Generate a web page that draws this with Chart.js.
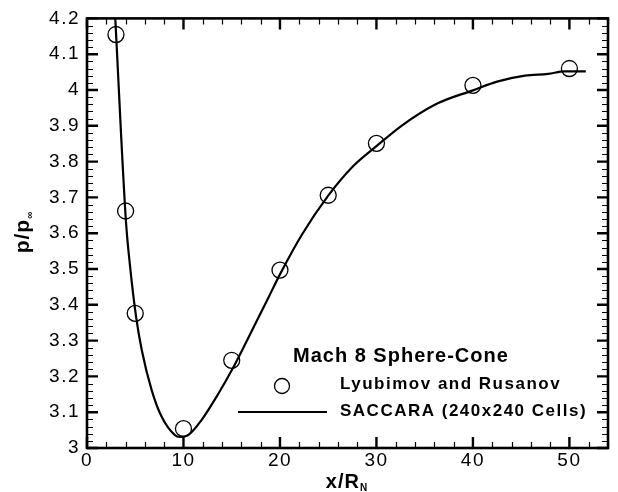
<!DOCTYPE html>
<html>
<head>
<meta charset="utf-8">
<script src="https://cdn.jsdelivr.net/npm/chart.js@4/dist/chart.umd.min.js"></script>
<style>
  body { margin: 0; background: #fff; }
  #wrap { width: 618px; height: 492px; }
</style>
</head>
<body>
<div id="wrap"><canvas id="chart" width="618" height="492"></canvas></div>
<script>
// experiment (Lyubimov and Rusanov)
var expX = [3, 4, 5, 10, 15, 20, 25, 30, 40, 50];
var expP = [4.155, 3.662, 3.376, 3.054, 3.245, 3.497, 3.706, 3.851, 4.013, 4.06];

// SACCARA (240x240 cells)
var cfdX = [2.93, 4.03, 4.47, 5.09, 5.68, 6.71, 7.74, 9.11, 9.63, 10.49, 11.87, 13.58, 15.1, 16.3, 17.5, 18.8, 20, 22.3, 25, 27.5, 30, 32.6, 36.3, 40, 42.6, 45.4, 47.8, 49.5, 51.7];
var cfdP = [4.2, 3.636, 3.506, 3.366, 3.273, 3.161, 3.087, 3.036, 3.031, 3.036, 3.078, 3.15, 3.222, 3.285, 3.35, 3.42, 3.485, 3.597, 3.705, 3.785, 3.843, 3.9, 3.962, 3.999, 4.024, 4.04, 4.045, 4.052, 4.052];

// axes
var xRange = [0, 54];
var yRange = [3, 4.2];
var xMajor = 10, xMinor = 2;
var yMajor = 0.1, yMinor = 0.02;

var legendTitle = "Mach 8 Sphere-Cone";
var legendLabels = ["Lyubimov and Rusanov", "SACCARA (240x240 Cells)"];

var FONT = "'Liberation Sans', Arial, Helvetica, sans-serif";

function pairs(xs, ys) {
  return xs.map(function (v, i) { return { x: v, y: ys[i] }; });
}

// wider letters like the original
var spacingPlugin = {
  id: "spacingPlugin",
  beforeDraw: function (chart) {
    chart.ctx.letterSpacing = "1.5px";
  }
};

// frame, inside ticks on all four sides, axis titles and legend
var framePlugin = {
  id: "framePlugin",
  afterDatasetsDraw: function (chart) {
    var ctx = chart.ctx;
    var a = chart.chartArea;
    var xs = chart.scales.x;
    var ys = chart.scales.y;
    ctx.save();
    ctx.strokeStyle = "#000";
    ctx.lineCap = "butt";

    // minor ticks
    ctx.lineWidth = 1.2;
    ctx.beginPath();
    var n = Math.round((xRange[1] - xRange[0]) / xMinor);
    for (var i = 0; i <= n; i++) {
      var v = xRange[0] + i * xMinor;
      if (Math.abs(v / xMajor - Math.round(v / xMajor)) < 1e-6) continue;
      var px = Math.round(xs.getPixelForValue(v)) + 0.5;
      ctx.moveTo(px, a.bottom); ctx.lineTo(px, a.bottom - 6);
      ctx.moveTo(px, a.top); ctx.lineTo(px, a.top + 6);
    }
    n = Math.round((yRange[1] - yRange[0]) / yMinor);
    for (i = 0; i <= n; i++) {
      if (i % 5 === 0) continue;
      var vy = yRange[0] + i * yMinor;
      var py = Math.round(ys.getPixelForValue(vy)) + 0.5;
      ctx.moveTo(a.left, py); ctx.lineTo(a.left + 6, py);
      ctx.moveTo(a.right, py); ctx.lineTo(a.right - 6, py);
    }
    ctx.stroke();

    // major ticks
    ctx.lineWidth = 2.4;
    ctx.beginPath();
    xs.ticks.forEach(function (t) {
      var px = xs.getPixelForValue(t.value);
      ctx.moveTo(px, a.bottom); ctx.lineTo(px, a.bottom - 11);
      ctx.moveTo(px, a.top); ctx.lineTo(px, a.top + 11);
    });
    ys.ticks.forEach(function (t) {
      var py = ys.getPixelForValue(t.value);
      ctx.moveTo(a.left, py); ctx.lineTo(a.left + 11, py);
      ctx.moveTo(a.right, py); ctx.lineTo(a.right - 11, py);
    });
    ctx.stroke();

    // frame
    ctx.lineWidth = 2.6;
    ctx.strokeRect(a.left, a.top, a.right - a.left, a.bottom - a.top);

    // axis titles
    ctx.fillStyle = "#000";
    ctx.textBaseline = "alphabetic";
    ctx.textAlign = "left";
    ctx.letterSpacing = "1px";
    ctx.font = "bold 20px " + FONT;
    var w1 = ctx.measureText("x/R").width;
    ctx.font = "bold 10px " + FONT;
    var w2 = ctx.measureText("N").width;
    var x0 = 347 - (w1 + w2) / 2;
    ctx.font = "bold 20px " + FONT;
    ctx.fillText("x/R", x0, 488);
    ctx.font = "bold 10px " + FONT;
    ctx.fillText("N", x0 + w1, 491);

    ctx.save();
    ctx.translate(29, 0);
    ctx.rotate(-Math.PI / 2);
    ctx.font = "bold 21px " + FONT;
    var wy1 = ctx.measureText("p/p").width;
    ctx.font = "bold 10px " + FONT;
    var wy2 = ctx.measureText("\u221E").width;
    var start = -232 - (wy1 + wy2) / 2;
    ctx.font = "bold 21px " + FONT;
    ctx.fillText("p/p", start, 0);
    ctx.font = "bold 10px " + FONT;
    ctx.fillText("\u221E", start + wy1, 4);
    ctx.restore();

    // legend
    ctx.textAlign = "left";
    ctx.textBaseline = "middle";
    ctx.font = "bold 20px " + FONT;
    ctx.letterSpacing = "1px";
    ctx.fillText(legendTitle, 293, 356);
    ctx.font = "bold 17px " + FONT;
    ctx.letterSpacing = "1.5px";
    ctx.fillText(legendLabels[0], 340, 384);
    ctx.fillText(legendLabels[1], 340, 411);
    ctx.lineWidth = 1.3;
    ctx.beginPath();
    ctx.arc(282, 386, 7.5, 0, Math.PI * 2);
    ctx.stroke();
    ctx.lineWidth = 2.2;
    ctx.beginPath();
    ctx.moveTo(238, 412); ctx.lineTo(327, 412);
    ctx.stroke();
    ctx.restore();
  }
};

var ctx = document.getElementById("chart").getContext("2d");
var myChart = new Chart(ctx, {
  type: "scatter",
  data: {
    datasets: [
      {
        label: legendLabels[1],
        data: pairs(cfdX, cfdP),
        showLine: true,
        borderColor: "#000",
        borderWidth: 2.2,
        pointRadius: 0,
        cubicInterpolationMode: "monotone",
        fill: false,
      },
      {
        label: legendLabels[0],
        data: pairs(expX, expP),
        showLine: false,
        pointStyle: "circle",
        pointRadius: 8,
        pointBorderWidth: 1.3,
        pointBorderColor: "#000",
        pointBackgroundColor: "rgba(0,0,0,0)",
      },
    ],
  },
  options: {
    responsive: false,
    animation: false,
    events: [],
    layout: { padding: { left: 0, right: 10, top: 18, bottom: 0 } },
    plugins: {
      legend: { display: false },
      tooltip: { enabled: false },
    },
    scales: {
      x: {
        type: "linear",
        min: xRange[0],
        max: xRange[1],
        grid: { display: false, drawTicks: false, tickLength: 0 },
        border: { display: false },
        afterFit: function (s) { s.height = 44; },
        ticks: {
          stepSize: xMajor,
          includeBounds: false,
          maxRotation: 0,
          padding: 1,
          color: "#000",
          font: { family: FONT, size: 19 },
        },
      },
      y: {
        type: "linear",
        min: yRange[0],
        max: yRange[1],
        grid: { display: false, drawTicks: false, tickLength: 0 },
        border: { display: false },
        afterFit: function (s) { s.width = 87; },
        ticks: {
          stepSize: yMajor,
          padding: 7,
          color: "#000",
          font: { family: FONT, size: 19 },
          callback: function (v) { return String(+v.toFixed(1)); },
        },
      },
    },
  },
  plugins: [spacingPlugin, framePlugin],
});
</script>
</body>
</html>
